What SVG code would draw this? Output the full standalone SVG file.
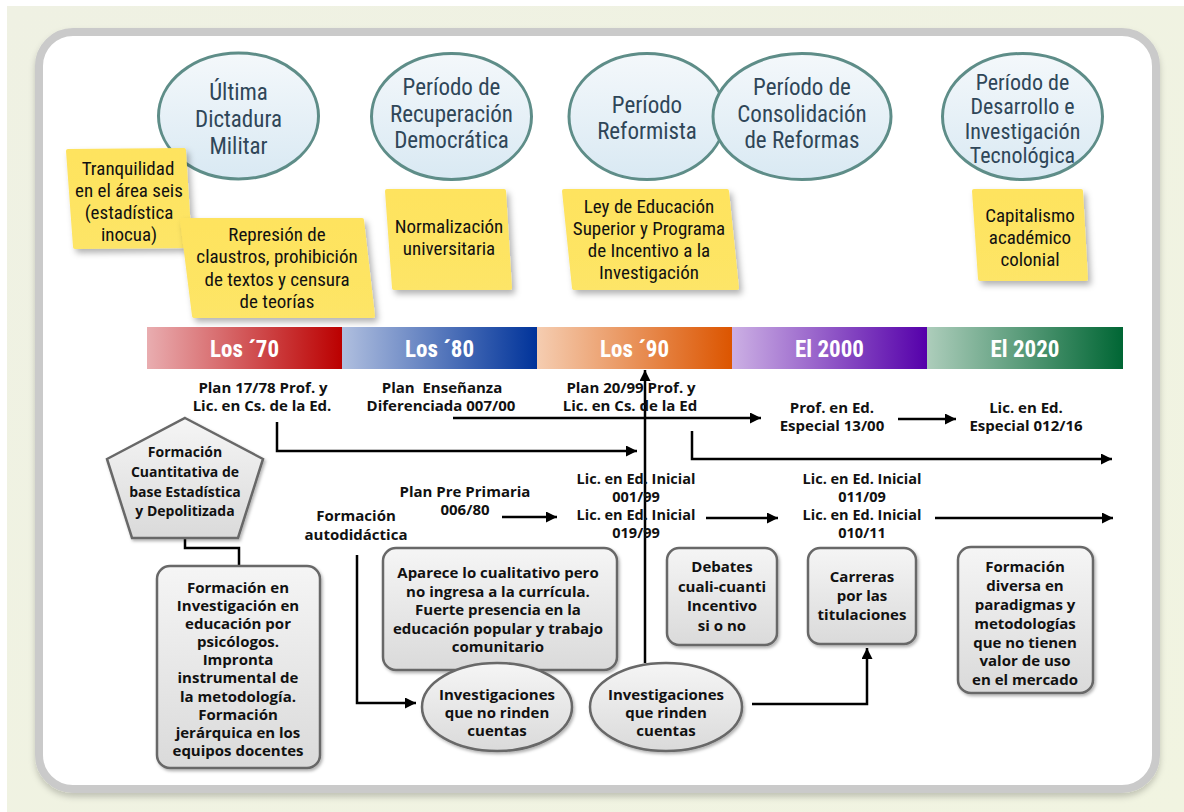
<svg xmlns="http://www.w3.org/2000/svg" width="1184" height="812" viewBox="0 0 1184 812">
<defs>
<linearGradient id="gBg" x1="0" y1="0" x2="1" y2="1"><stop offset="0" stop-color="#eff1e3"/><stop offset="1" stop-color="#f1f4e1"/></linearGradient>
<linearGradient id="gEra" x1="0" y1="0" x2="0" y2="1"><stop offset="0" stop-color="#f4f8fb"/><stop offset="1" stop-color="#d9e9f3"/></linearGradient>
<linearGradient id="gBox" x1="0" y1="0" x2="0" y2="1"><stop offset="0" stop-color="#f5f5f5"/><stop offset="1" stop-color="#dadada"/></linearGradient>
<linearGradient id="gNote" x1="0" y1="0" x2="0" y2="1"><stop offset="0" stop-color="#fee35e"/><stop offset="1" stop-color="#fde567"/></linearGradient>
<linearGradient id="b70" x1="0" y1="0" x2="1" y2="0"><stop offset="0" stop-color="#e9adb0"/><stop offset="1" stop-color="#bb0000"/></linearGradient>
<linearGradient id="b80" x1="0" y1="0" x2="1" y2="0"><stop offset="0" stop-color="#b0bfdf"/><stop offset="1" stop-color="#00339a"/></linearGradient>
<linearGradient id="b90" x1="0" y1="0" x2="1" y2="0"><stop offset="0" stop-color="#f5cdb1"/><stop offset="1" stop-color="#dc5500"/></linearGradient>
<linearGradient id="b00" x1="0" y1="0" x2="1" y2="0"><stop offset="0" stop-color="#ccb0e4"/><stop offset="1" stop-color="#5500aa"/></linearGradient>
<linearGradient id="b20" x1="0" y1="0" x2="1" y2="0"><stop offset="0" stop-color="#adcdbb"/><stop offset="1" stop-color="#006634"/></linearGradient>
<filter id="sh" x="-20%" y="-20%" width="150%" height="150%"><feDropShadow dx="3" dy="4" stdDeviation="3" flood-color="#000" flood-opacity="0.3"/></filter>
<filter id="sh2" x="-10%" y="-10%" width="130%" height="130%"><feDropShadow dx="1.5" dy="2" stdDeviation="1.5" flood-color="#000" flood-opacity="0.3"/></filter>
<filter id="shP" x="-5%" y="-5%" width="110%" height="112%"><feDropShadow dx="0" dy="4" stdDeviation="3" flood-color="#000" flood-opacity="0.2"/></filter>
<marker id="ah" viewBox="0 0 10 10" refX="10" refY="5" markerWidth="12" markerHeight="11" markerUnits="userSpaceOnUse" orient="auto"><path d="M0,0 L10,5 L0,10 z" fill="#000"/></marker>
<style>
.era{fill:url(#gEra);stroke:#5e8d88;stroke-width:3}
.eraT{font-family:"Liberation Sans Narrow","Roboto Condensed","DejaVu Sans Condensed",sans-serif;font-stretch:condensed;font-size:23px;fill:#2f4658;text-anchor:middle}
.note{fill:url(#gNote);filter:url(#sh)}
.noteT{font-family:"Liberation Sans Narrow","Roboto Condensed","DejaVu Sans Condensed",sans-serif;font-stretch:condensed;font-size:19px;fill:#111;text-anchor:middle}
.bandT{font-family:"Liberation Sans Narrow","Roboto Condensed","DejaVu Sans Condensed",sans-serif;font-stretch:condensed;font-weight:bold;font-size:23px;fill:#fff;text-anchor:middle}
.lbl{font-family:"Open Sans","Noto Sans",sans-serif;font-weight:700;font-size:15px;fill:#111;text-anchor:middle}
.tight{font-size:14.5px}
.box{fill:url(#gBox);stroke:#676767;stroke-width:2.5;filter:url(#sh2)}
.conn{fill:none;stroke:#000;stroke-width:2.5}
</style>
</defs>
<rect x="0" y="0" width="1184" height="812" fill="#ffffff"/>
<rect x="7" y="6" width="1177" height="806" fill="url(#gBg)"/>
<rect x="39" y="32" width="1117" height="757" rx="34" fill="#fff" stroke="#cacaca" stroke-width="8" filter="url(#shP)"/>

<g id="era-dictadura"><ellipse class="era" cx="238.5" cy="116" rx="80" ry="63"/><text class="eraT"><tspan x="238.5" y="100">Última</tspan><tspan x="238.5" y="127">Dictadura</tspan><tspan x="238.5" y="154">Militar</tspan></text></g>
<g id="era-recuperacion"><ellipse class="era" cx="451.5" cy="116.5" rx="80" ry="63"/><text class="eraT"><tspan x="451.5" y="95">Período de</tspan><tspan x="451.5" y="122">Recuperación</tspan><tspan x="451.5" y="148">Democrática</tspan></text></g>
<g id="era-reformista"><ellipse class="era" cx="647" cy="116.5" rx="78" ry="63"/><text class="eraT"><tspan x="647" y="113">Período</tspan><tspan x="647" y="139">Reformista</tspan></text></g>
<g id="era-consolidacion"><ellipse class="era" cx="802" cy="116.5" rx="89" ry="63"/><text class="eraT"><tspan x="802" y="95">Período de</tspan><tspan x="802" y="122">Consolidación</tspan><tspan x="802" y="148">de Reformas</tspan></text></g>
<g id="era-desarrollo"><ellipse class="era" cx="1022.5" cy="116.5" rx="80" ry="63"/><text class="eraT" style="font-size:22px"><tspan x="1022.5" y="90">Período de</tspan><tspan x="1022.5" y="114">Desarrollo e</tspan><tspan x="1022.5" y="139">Investigación</tspan><tspan x="1022.5" y="163">Tecnológica</tspan></text></g>

<g id="note-tranquilidad"><path class="note" d="M68,149 L184,148 Q186,148 186,151 L192,246 Q192,248 190,248 L75,249 Q73,249 73,247 L66,151 Q66,149 68,149 z"/><text class="noteT"><tspan x="128" y="175">Tranquilidad</tspan><tspan x="129" y="197">en el área seis</tspan><tspan x="129" y="219">(estadística</tspan><tspan x="129" y="241">inocua)</tspan></text></g>
<g id="note-represion"><path class="note" d="M182,218 L362,218 Q364,218 364,220 L375,316 Q375,318 373,318 L194,318 Q192,318 192,316 L180,220 Q180,218 182,218 z"/><text class="noteT"><tspan x="277" y="241">Represión de</tspan><tspan x="277" y="263">claustros, prohibición</tspan><tspan x="277" y="286">de textos y censura</tspan><tspan x="277" y="308">de teorías</tspan></text></g>
<g id="note-normalizacion"><path class="note" d="M387,189 L504,189 Q506,189 506,191 L512,288 Q512,290 510,290 L394,290 Q392,290 392,288 L385,191 Q385,189 387,189 z"/><text class="noteT"><tspan x="449" y="233">Normalización</tspan><tspan x="449" y="255">universitaria</tspan></text></g>
<g id="note-ley"><path class="note" d="M564,189 L727,189 Q729,189 729,191 L739,288 Q739,290 737,290 L574,290 Q572,290 572,288 L562,191 Q562,189 564,189 z"/><text class="noteT"><tspan x="649" y="213">Ley de Educación</tspan><tspan x="649" y="235">Superior y Programa</tspan><tspan x="649" y="257">de Incentivo a la</tspan><tspan x="649" y="279">Investigación</tspan></text></g>
<g id="note-capitalismo"><path class="note" d="M974,189 L1081,189 Q1083,189 1083,191 L1088,279 Q1088,281 1086,281 L980,281 Q978,281 978,279 L972,191 Q972,189 974,189 z"/><text class="noteT"><tspan x="1030" y="222">Capitalismo</tspan><tspan x="1030" y="244">académico</tspan><tspan x="1030" y="266">colonial</tspan></text></g>

<g id="timeline">
<rect x="147" y="327" width="195" height="42" fill="url(#b70)"/>
<rect x="342" y="327" width="195" height="42" fill="url(#b80)"/>
<rect x="537" y="327" width="195" height="42" fill="url(#b90)"/>
<rect x="732" y="327" width="195" height="42" fill="url(#b00)"/>
<rect x="927" y="327" width="196" height="42" fill="url(#b20)"/>
<text class="bandT" x="244.5" y="357">Los ´70</text>
<text class="bandT" x="439.5" y="357">Los ´80</text>
<text class="bandT" x="634.5" y="357">Los ´90</text>
<text class="bandT" x="829.5" y="357">El 2000</text>
<text class="bandT" x="1025" y="357">El 2020</text>
</g>

<g id="connectors">
<path class="conn" d="M277,422 V451 H637" marker-end="url(#ah)"/>
<path class="conn" d="M453,418 H761" marker-end="url(#ah)"/>
<path class="conn" d="M898,419 H956" marker-end="url(#ah)"/>
<path class="conn" d="M645,663 V370" marker-end="url(#ah)"/>
<path class="conn" d="M692,431 V459 H1112" marker-end="url(#ah)"/>
<path class="conn" d="M502,517 H557" marker-end="url(#ah)"/>
<path class="conn" d="M706,518 H778" marker-end="url(#ah)"/>
<path class="conn" d="M935,518 H1113" marker-end="url(#ah)"/>
<path class="conn" d="M357,555 V703 H416" marker-end="url(#ah)"/>
<path class="conn" d="M752,704 H867 V648" marker-end="url(#ah)"/>
<path class="conn" d="M185,538 V548 H239 V567"/>
</g>

<g id="plan-1778"><text class="lbl"><tspan x="263" y="393">Plan 17/78 Prof. y</tspan><tspan x="262" y="411">Lic. en Cs. de la Ed.</tspan></text></g>
<g id="plan-00700"><text class="lbl"><tspan x="442" y="393" xml:space="preserve">Plan  Enseñanza</tspan><tspan x="441" y="411">Diferenciada 007/00</tspan></text></g>
<g id="plan-2099"><text class="lbl"><tspan x="631" y="393">Plan 20/99 Prof. y</tspan><tspan x="630" y="411">Lic. en Cs. de la Ed</tspan></text></g>
<g id="prof-1300"><text class="lbl"><tspan x="832" y="413">Prof. en Ed.</tspan><tspan x="832" y="431">Especial 13/00</tspan></text></g>
<g id="lic-01216"><text class="lbl"><tspan x="1026" y="413">Lic. en Ed.</tspan><tspan x="1026" y="431">Especial 012/16</tspan></text></g>
<g id="lic-inicial-99"><text class="lbl tight"><tspan x="636" y="484">Lic. en Ed. Inicial</tspan><tspan x="636" y="502">001/99</tspan><tspan x="636" y="520">Lic. en Ed. Inicial</tspan><tspan x="636" y="538">019/99</tspan></text></g>
<g id="lic-inicial-09"><text class="lbl tight"><tspan x="862" y="484">Lic. en Ed. Inicial</tspan><tspan x="862" y="502">011/09</tspan><tspan x="862" y="520">Lic. en Ed. Inicial</tspan><tspan x="862" y="538">010/11</tspan></text></g>
<g id="plan-preprimaria"><text class="lbl"><tspan x="465" y="497">Plan Pre Primaria</tspan><tspan x="465" y="515">006/80</tspan></text></g>
<g id="autodidactica"><text class="lbl"><tspan x="356" y="521">Formación</tspan><tspan x="356" y="540">autodidáctica</tspan></text></g>

<g id="pentagono"><polygon points="185,418 263,459 238,538 132,538 107,459" fill="url(#gBox)" stroke="#676767" stroke-width="2.5" filter="url(#sh2)"/><text class="lbl" style="font-size:14px"><tspan x="185" y="457">Formación</tspan><tspan x="185" y="477">Cuantitativa de</tspan><tspan x="185" y="497">base Estadística</tspan><tspan x="185" y="516">y Depolitizada</tspan></text></g>
<g id="box-psicologos"><rect class="box" x="157" y="566" width="163" height="202" rx="13"/><text class="lbl"><tspan x="238" y="593">Formación en</tspan><tspan x="238" y="611">Investigación en</tspan><tspan x="238" y="629">educación por</tspan><tspan x="238" y="647">psicólogos.</tspan><tspan x="238" y="665">Impronta</tspan><tspan x="238" y="683">instrumental de</tspan><tspan x="238" y="702">la metodología.</tspan><tspan x="238" y="720">Formación</tspan><tspan x="238" y="738">jerárquica en los</tspan><tspan x="238" y="756">equipos docentes</tspan></text></g>
<g id="box-cualitativo"><rect class="box" x="383" y="548" width="234" height="122" rx="13"/><text class="lbl"><tspan x="498" y="578">Aparece lo cualitativo pero</tspan><tspan x="498" y="597">no ingresa a la currícula.</tspan><tspan x="498" y="615">Fuerte presencia en la</tspan><tspan x="498" y="634">educación popular y trabajo</tspan><tspan x="498" y="652">comunitario</tspan></text></g>
<g id="box-debates"><rect class="box" x="667" y="548" width="110" height="97" rx="12"/><text class="lbl"><tspan x="722" y="572">Debates</tspan><tspan x="722" y="592">cuali-cuanti</tspan><tspan x="722" y="611">Incentivo</tspan><tspan x="722" y="631">si o no</tspan></text></g>
<g id="box-carreras"><rect class="box" x="808" y="548" width="108" height="96" rx="12"/><text class="lbl"><tspan x="862" y="582">Carreras</tspan><tspan x="862" y="601">por las</tspan><tspan x="862" y="620">titulaciones</tspan></text></g>
<g id="box-diversa"><rect class="box" x="958" y="547" width="135" height="146" rx="13"/><text class="lbl"><tspan x="1025" y="572">Formación</tspan><tspan x="1025" y="591">diversa en</tspan><tspan x="1025" y="610">paradigmas y</tspan><tspan x="1025" y="629">metodologías</tspan><tspan x="1025" y="648">que no tienen</tspan><tspan x="1025" y="666">valor de uso</tspan><tspan x="1025" y="685">en el mercado</tspan></text></g>
<g id="inv-no-rinden"><ellipse cx="497" cy="707" rx="75" ry="44" fill="url(#gBox)" stroke="#676767" stroke-width="2.5" filter="url(#sh2)"/><text class="lbl"><tspan x="497" y="700">Investigaciones</tspan><tspan x="497" y="718">que no rinden</tspan><tspan x="497" y="736">cuentas</tspan></text></g>
<g id="inv-rinden"><ellipse cx="666" cy="707" rx="76" ry="44" fill="url(#gBox)" stroke="#676767" stroke-width="2.5" filter="url(#sh2)"/><text class="lbl"><tspan x="666" y="700">Investigaciones</tspan><tspan x="666" y="718">que rinden</tspan><tspan x="666" y="736">cuentas</tspan></text></g>
</svg>
